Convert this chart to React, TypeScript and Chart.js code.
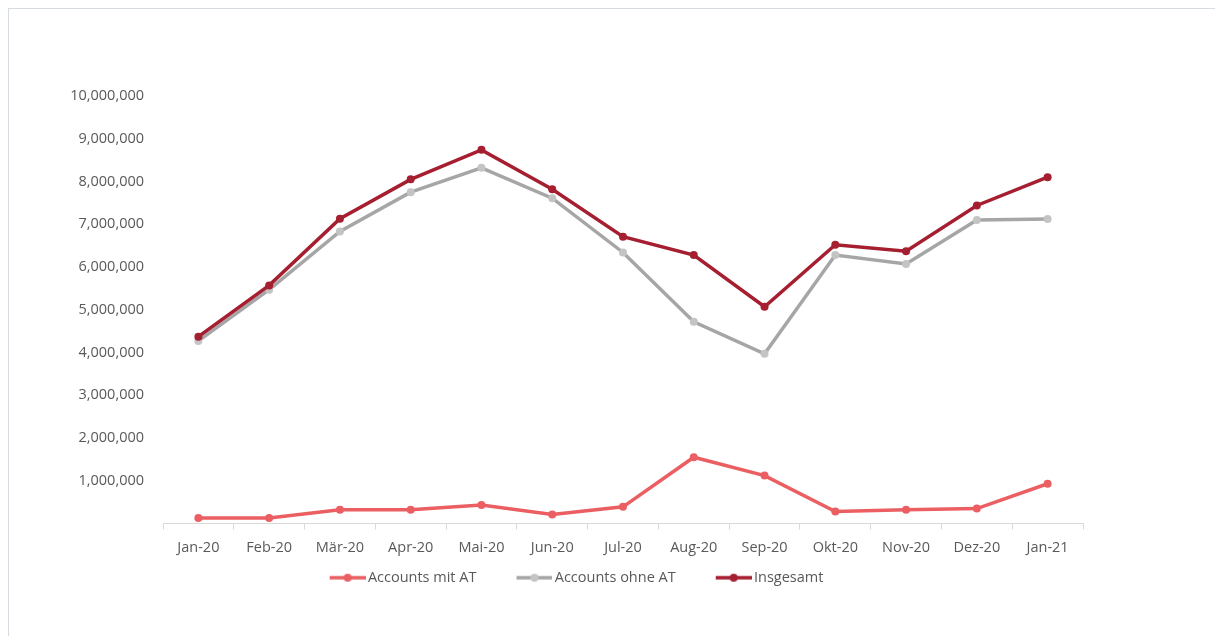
import React, { useEffect, useRef } from "react";
import { Chart, registerables } from "chart.js";

Chart.register(...registerables);

const categories = ["Jan-20", "Feb-20", "Mär-20", "Apr-20", "Mai-20", "Jun-20", "Jul-20", "Aug-20", "Sep-20", "Okt-20", "Nov-20", "Dez-20", "Jan-21"];
const mitAT = [130000, 130000, 320000, 320000, 430000, 210000, 390000, 1550000, 1120000, 280000, 320000, 350000, 930000];
const ohneAT = [4270000, 5470000, 6830000, 7750000, 8320000, 7610000, 6340000, 4720000, 3970000, 6280000, 6070000, 7100000, 7120000];
const insgesamt = [4370000, 5570000, 7130000, 8050000, 8740000, 7820000, 6710000, 6280000, 5070000, 6520000, 6370000, 7440000, 8100000];
const seriesNames = ["Accounts mit AT", "Accounts ohne AT", "Insgesamt"];
const yMin = 0;
const yMax = 10000000;
const yStep = 1000000;

const FONT = "'Open Sans', sans-serif";
const TEXT = "#595959";

function makeMarker(lineColor: string, dotColor: string): HTMLCanvasElement {
  const c = document.createElement("canvas");
  c.width = 71;
  c.height = 10;
  const ctx = c.getContext("2d")!;
  ctx.strokeStyle = lineColor;
  ctx.lineWidth = 3.5;
  ctx.beginPath();
  ctx.moveTo(35, 5);
  ctx.lineTo(71, 5);
  ctx.stroke();
  ctx.fillStyle = dotColor;
  ctx.beginPath();
  ctx.arc(53, 5, 4, 0, Math.PI * 2);
  ctx.fill();
  return c;
}

export default function App() {
  const ref = useRef<HTMLCanvasElement | null>(null);

  useEffect(() => {
    if (!ref.current) return;
    const colors = [
      { line: "#EB5F63", dot: "#EB5F63" },
      { line: "#A6A6A6", dot: "#C4C4C4" },
      { line: "#A51F30", dot: "#A51F30" },
    ];
    const markers = colors.map((c) => makeMarker(c.line, c.dot));
    const values = [mitAT, ohneAT, insgesamt];
    const chart = new Chart(ref.current, {
      type: "line",
      data: {
        labels: categories,
        datasets: values.map((v, i) => ({
          label: seriesNames[i],
          data: v,
          borderColor: colors[i].line,
          backgroundColor: colors[i].line,
          pointBackgroundColor: colors[i].dot,
          pointBorderColor: colors[i].dot,
          borderWidth: 3.5,
          pointRadius: 4,
          pointHoverRadius: 4,
          pointBorderWidth: 0,
          tension: 0,
          fill: false,
          order: i === 2 ? 0 : 1,
        })),
      },
      options: {
        responsive: false,
        animation: false,
        devicePixelRatio: 1,
        layout: { padding: { top: 87, left: 31, right: 132, bottom: 41 } },
        scales: {
          x: {
            type: "category",
            offset: true,
            grid: {
              display: true,
              drawOnChartArea: false,
              drawTicks: true,
              tickLength: 6,
              color: "#d9d9d9",
              offset: true,
            },
            border: { display: true, color: "#d9d9d9", width: 1 },
            ticks: {
              color: TEXT,
              font: { family: FONT, size: 14.5 },
              padding: 10,
              maxRotation: 0,
              autoSkip: false,
            },
            afterFit: (s: any) => {
              s.height = 37;
            },
          },
          y: {
            min: yMin,
            max: yMax,
            grid: { display: false },
            border: { display: false },
            ticks: {
              stepSize: yStep,
              color: TEXT,
              font: { family: FONT, size: 14.5 },
              padding: 11,
              callback: (v: any) => (Number(v) === 0 ? "" : Number(v).toLocaleString("en-US")),
            },
            afterFit: (s: any) => {
              s.width = 123;
            },
          },
        },
        plugins: {
          tooltip: { enabled: false },
          legend: {
            position: "bottom",
            labels: {
              usePointStyle: true,
              pointStyleWidth: 61,
              padding: 10,
              color: TEXT,
              font: { family: FONT, size: 14.5 },
              sort: (a: any, b: any) => a.datasetIndex - b.datasetIndex,
              generateLabels: (ch: any) => {
                const items = Chart.defaults.plugins.legend.labels.generateLabels(ch);
                return items.map((it: any) => ({ ...it, pointStyle: markers[it.datasetIndex] }));
              },
            },
          },
        },
      },
    } as any);
    return () => chart.destroy();
  }, []);

  return (
    <div
      style={{
        position: "fixed",
        top: 8,
        left: 8,
        width: 1230,
        height: 650,
        boxSizing: "border-box",
        borderTop: "1px solid #d6dbe1",
        borderLeft: "1px solid #d6dbe1",
        overflow: "hidden",
        background: "#fff",
      }}
    >
      <canvas ref={ref} width={1206} height={627} style={{ display: "block" }} />
    </div>
  );
}
